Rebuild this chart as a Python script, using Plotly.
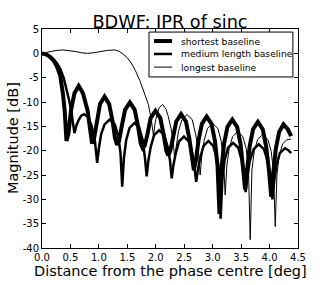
import plotly.graph_objects as go

# ---- data ----
short_x = [0, 0.07, 0.14, 0.2, 0.26, 0.32, 0.37, 0.40, 0.43,
           0.465, 0.51, 0.57, 0.645, 0.72, 0.80, 0.845, 0.88,
           0.915, 0.96, 1.02, 1.10, 1.18, 1.24, 1.285, 1.32,
           1.355, 1.40, 1.46, 1.545, 1.63, 1.69, 1.735, 1.77,
           1.805, 1.85, 1.91, 1.995, 2.08, 2.14, 2.185, 2.22,
           2.255, 2.30, 2.36, 2.445, 2.53, 2.59, 2.635, 2.67,
           2.705, 2.75, 2.81, 2.895, 2.98, 3.04, 3.085, 3.12,
           3.155, 3.20, 3.26, 3.345, 3.43, 3.49, 3.535, 3.57,
           3.605, 3.65, 3.71, 3.795, 3.88, 3.94, 3.99, 4.03,
           4.065, 4.11, 4.17, 4.245, 4.32, 4.38]
short_db = [0, -0.2, -0.7, -1.4, -2.6, -4.5, -8.5, -12.0, -18.0,
            -16.5, -11.7, -8.2, -6.7, -8.2, -11.7, -16.5, -18.5,
            -17.5, -13.9, -10.4, -8.9, -10.4, -13.9, -17.5, -18.8,
            -18.0, -15.1, -11.6, -10.1, -11.6, -15.1, -18.5, -19.5,
            -19.0, -16.8, -13.3, -11.8, -13.3, -16.8, -20.0, -21.0,
            -20.0, -17.5, -14.0, -12.5, -14.0, -17.5, -21.5, -24.0,
            -22.0, -18.0, -14.5, -13.0, -14.5, -18.0, -23.0, -33.0,
            -23.6, -18.6, -15.1, -13.6, -15.1, -18.6, -23.6, -28.0,
            -24.1, -19.1, -15.6, -14.1, -15.6, -19.1, -24.1, -29.5,
            -24.6, -19.6, -16.1, -14.6, -15.6, -17.0]

medium_x = [0, 0.07, 0.14, 0.2, 0.26, 0.32, 0.38, 0.43, 0.48, 0.52, 0.55, 0.57,
            0.60, 0.64, 0.69, 0.74, 0.80, 0.87, 0.93, 0.97,
            1.00, 1.04, 1.10, 1.19, 1.28, 1.34, 1.38, 1.41,
            1.44, 1.48, 1.54, 1.625, 1.71, 1.77, 1.81, 1.84,
            1.87, 1.91, 1.97, 2.06, 2.15, 2.21, 2.25, 2.28,
            2.31, 2.35, 2.41, 2.495, 2.58, 2.64, 2.68, 2.71,
            2.74, 2.78, 2.84, 2.925, 3.01, 3.07, 3.11, 3.14,
            3.17, 3.21, 3.27, 3.36, 3.45, 3.51, 3.55, 3.58,
            3.61, 3.65, 3.72, 3.81, 3.90, 3.97, 4.02, 4.05,
            4.08, 4.12, 4.18, 4.27, 4.33, 4.38]
medium_db = [0, -0.15, -0.6, -1.2, -2.0, -3.2, -5.0, -7.2, -9.8, -12.3, -14.5, -16.4,
             -15.0, -13.8, -12.8, -12.5, -13.0, -14.8, -18.0, -22.5,
             -19.5, -16.6, -14.6, -13.6, -14.6, -17.0, -20.5, -27.4,
             -21.5, -17.8, -15.3, -14.3, -15.3, -17.8, -21.5, -25.3,
             -22.0, -19.3, -16.8, -15.8, -16.8, -19.3, -22.0, -25.7,
             -23.0, -20.6, -18.1, -17.1, -18.1, -20.6, -23.5, -26.4,
             -24.0, -21.5, -19.0, -18.0, -19.0, -21.5, -25.0, -34.0,
             -26.0, -21.9, -19.4, -18.4, -19.4, -21.9, -25.5, -28.5,
             -25.5, -22.2, -19.7, -18.7, -19.7, -22.2, -26.0, -30.0,
             -26.5, -23.0, -20.5, -19.5, -19.9, -20.5]

long_x = [0, 0.07, 0.15, 0.25, 0.37, 0.48, 0.6, 0.7, 0.8, 0.9, 1.02, 1.15, 1.28,
          1.36, 1.43, 1.5, 1.57, 1.64, 1.72, 1.8, 1.87, 1.92, 1.96,
          1.985, 2.02, 2.06, 2.12, 2.18, 2.22, 2.27, 2.31, 2.33,
          2.36, 2.40, 2.46, 2.55, 2.64, 2.70, 2.75, 2.78,
          2.81, 2.85, 2.91, 3.0, 3.09, 3.15, 3.19, 3.22,
          3.25, 3.29, 3.35, 3.44, 3.53, 3.59, 3.63, 3.66,
          3.69, 3.73, 3.79, 3.88, 3.97, 4.03, 4.07, 4.10,
          4.13, 4.17, 4.23, 4.30, 4.38]
long_db = [0, 0.15, 0.35, 0.6, 0.7, 0.6, 0.35, 0.1, 0.0, 0.1, 0.35, 0.6, 0.7,
           0.4, -0.2, -0.9, -2.0, -3.5, -5.6, -8.0, -10.5, -13.5, -17.0,
           -14.5, -12.5, -11.2, -10.5, -11.5, -13.0, -15.5, -18.5, -21.5,
           -19.0, -16.0, -13.6, -12.6, -13.6, -16.6, -20.0, -25.0,
           -21.0, -17.9, -15.4, -14.4, -15.4, -18.0, -22.0, -29.1,
           -23.0, -19.6, -17.1, -16.1, -17.1, -19.6, -24.0, -38.3,
           -24.0, -20.2, -17.7, -16.7, -17.7, -20.2, -24.5, -35.6,
           -25.0, -21.0, -18.6, -17.8, -17.6]

series_names = ["shortest baseline", "medium length baseline", "longest baseline"]
x_ticks = [0, 0.5, 1.0, 1.5, 2.0, 2.5, 3.0, 3.5, 4.0, 4.5]
x_ticktext = ["0.0", "0.5", "1.0", "1.5", "2.0", "2.5", "3.0", "3.5", "4.0", "4.5"]
y_ticks = [5, 0, -5, -10, -15, -20, -25, -30, -35, -40]
y_ticktext = ["5", "0", "-5", "-10", "-15", "-20", "-25", "-30", "-35", "-40"]
title_text = "BDWF: IPR of sinc"
x_label = "Distance from the phase centre [deg]"
y_label = "Magnitude [dB]"

FONT = "DejaVu Sans"
widths = [4, 2.5, 1]

fig = go.Figure()
for xs, ys, nm, w in zip([short_x, medium_x, long_x], [short_db, medium_db, long_db],
                         series_names, widths):
    fig.add_trace(go.Scatter(x=xs, y=ys, mode="lines", name=nm, showlegend=False,
                             line=dict(color="black", width=w)))

axis_common = dict(showline=True, linecolor="black", linewidth=1, mirror="ticks",
                   ticks="inside", ticklen=4, tickcolor="black", showgrid=False,
                   zeroline=False, tickfont=dict(family=FONT, size=10, color="black"))

# legend box drawn in paper coordinates (compact, matplotlib-like spacing)
shapes = [dict(type="rect", xref="paper", yref="paper", x0=0.418, x1=0.980,
               y0=0.781, y1=0.986, line=dict(color="black", width=1),
               fillcolor="white", layer="above")]
annotations = []
row_y = [0.945, 0.886, 0.826]
for nm, w, yy in zip(series_names, widths, row_y):
    shapes.append(dict(type="line", xref="paper", yref="paper", x0=0.4375, x1=0.508,
                       y0=yy, y1=yy, line=dict(color="black", width=w), layer="above"))
    annotations.append(dict(text=nm, xref="paper", yref="paper", x=0.535, y=yy,
                            xanchor="left", yanchor="middle", showarrow=False,
                            font=dict(family=FONT, size=9.2, color="black")))

# axis labels
annotations.append(dict(text=x_label, xref="paper", yref="paper", x=0.5, y=-0.103,
                        xanchor="center", yanchor="middle", showarrow=False,
                        font=dict(family=FONT, size=14.5, color="black")))
annotations.append(dict(text=y_label, xref="paper", yref="paper", x=-0.115, y=0.5,
                        xanchor="center", yanchor="middle", textangle=-90, showarrow=False,
                        font=dict(family=FONT, size=14.5, color="black")))

fig.update_layout(
    width=332, height=285,
    margin=dict(l=42, r=34, t=29, b=37),
    paper_bgcolor="white", plot_bgcolor="white",
    title=dict(text=title_text, x=0.5, xref="paper", xanchor="center",
               y=0.924, yanchor="middle", font=dict(family=FONT, size=17.7, color="black")),
    xaxis=dict(range=[0, 4.5], tickvals=x_ticks, ticktext=x_ticktext, **axis_common),
    yaxis=dict(range=[-40, 5], tickvals=y_ticks, ticktext=y_ticktext, **axis_common),
    showlegend=False,
    shapes=shapes,
    annotations=annotations,
)

fig.write_html("out.html", config={"displayModeBar": False},
               post_script="document.body.style.margin='0';")
